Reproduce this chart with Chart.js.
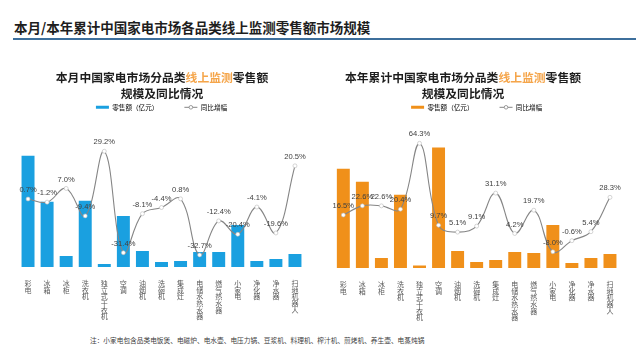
<!DOCTYPE html>
<html>
<head>
<meta charset="utf-8">
<script src="https://cdn.jsdelivr.net/npm/chart.js@4.4.0/dist/chart.umd.min.js"></script>
<style>
body { margin: 0; width: 640px; height: 360px; background: #fff; position: relative; overflow: hidden; font-family: "Noto Sans CJK SC", sans-serif; }
#mainTitle { position: absolute; left: 14px; top: 17px; font-size: 13.5px; font-weight: bold; color: #1e1e1e; line-height: 20px; }
#rule { position: absolute; left: 13px; top: 38px; width: 623px; height: 2px; background: #3d6f9c; }
.sub { position: absolute; top: 69px; width: 320px; text-align: center; font-size: 11.8px; font-weight: bold; color: #1e1e1e; line-height: 15.5px; z-index: 2; }
.sub span { color: #f5a54a; }
.box { position: absolute; top: 78px; width: 320px; height: 252px; }
#note { position: absolute; left: 90px; top: 335px; font-size: 6.7px; color: #404040; line-height: 10px; white-space: nowrap; }
</style>
</head>
<body>
<div id="mainTitle">本月/本年累计中国家电市场各品类线上监测零售额市场规模</div>
<div id="rule"></div>
<div class="sub" style="left:2px">本月中国家电市场分品类<span>线上监测</span>零售额<br>规模及同比情况</div>
<div class="sub" style="left:303px">本年累计中国家电市场分品类<span>线上监测</span>零售额<br>规模及同比情况</div>
<div class="box" style="left:0"><canvas id="monthChart"></canvas></div>
<div class="box" style="left:320px"><canvas id="yearChart"></canvas></div>
<div id="note">注：小家电包含品类电饭煲、电磁炉、电水壶、电压力锅、豆浆机、料理机、榨汁机、煎烤机、养生壶、电蒸炖锅</div>
<script>
var CATEGORIES = ['彩电', '冰箱', '冰柜', '洗衣机', '独立式干衣机', '空调', '油烟机', '洗碗机', '集成灶', '电储水热水器', '燃气热水器', '小家电', '净化器', '净水器', '扫地机器人'];

// 本月
var MONTH_SALES = [111, 65, 11, 66, 3, 51, 16, 5, 6, 15, 15, 42, 6, 8, 13];
var MONTH_GROWTH = [0.7, -1.2, 7.0, -9.4, 29.2, -31.4, -8.1, -4.4, 0.8, -32.7, -12.4, -20.4, -4.1, -19.6, 20.5];

// 本年累计
var YEAR_SALES = [99, 86, 10, 73, 2.5, 120, 17, 6, 8, 16, 15, 43, 5, 10, 14];
var YEAR_GROWTH = [16.5, 22.6, 22.6, 20.4, 64.3, 9.7, 5.1, 9.1, 31.1, 4.2, 19.7, -8.0, -0.6, 5.4, 28.3];

var LINE_GREY = '#858585';

// each category name stacked one character per line
var verticalLabels = CATEGORIES.map(function(c) { return c.split(''); });

var pointLabels = {
	id: 'pointLabels',
	afterDatasetsDraw: function(chart) {
		var ctx = chart.ctx;
		var meta = chart.getDatasetMeta(0);
		var data = chart.data.datasets[0].data;
		ctx.save();
		ctx.font = '7.6px "Liberation Sans", Arial, sans-serif';
		ctx.fillStyle = '#404040';
		ctx.textAlign = 'center';
		ctx.textBaseline = 'middle';
		meta.data.forEach(function(pt, i) {
			ctx.fillText(data[i].toFixed(1) + '%', pt.x, pt.y - 9);
		});
		ctx.restore();
	}
};

// push the plot area down below the legend, and put a small circle on the line swatch
function legendGap(extra) {
	return {
		id: 'legendGap',
		beforeInit: function(chart) {
			var fit = chart.legend.fit;
			chart.legend.fit = function() {
				fit.bind(chart.legend)();
				this.height += extra;
			};
		},
		afterDraw: function(chart) {
			var hb = chart.legend.legendHitBoxes[1];
			if (!hb) return;
			var ctx = chart.ctx;
			ctx.save();
			ctx.beginPath();
			ctx.arc(hb.left + 6.5, hb.top + hb.height / 2, 1.8, 0, Math.PI * 2);
			ctx.fillStyle = '#fff';
			ctx.fill();
			ctx.lineWidth = 0.8;
			ctx.strokeStyle = LINE_GREY;
			ctx.stroke();
			ctx.restore();
		}
	};
}

function makeChart(id, color, sales, growth, salesMax, gMin, gMax, pad, extra) {
	var ctx = document.getElementById(id).getContext('2d');
	return new Chart(ctx, {
		type: 'bar',
		data: {
			labels: verticalLabels,
			datasets: [{
				type: 'line',
				label: '同比增幅',
				data: growth,
				yAxisID: 'y2',
				borderColor: LINE_GREY,
				borderWidth: 1.1,
				tension: 0.4,
				pointRadius: 2,
				pointBackgroundColor: '#fff',
				pointBorderColor: '#bbb',
				pointBorderWidth: 0.6,
				clip: false
			}, {
				type: 'bar',
				label: '零售额（亿元）',
				data: sales,
				yAxisID: 'y',
				backgroundColor: color,
				barPercentage: 0.68,
				categoryPercentage: 1
			}]
		},
		options: {
			responsive: false,
			animation: false,
			devicePixelRatio: 1,
			layout: { padding: pad },
			plugins: {
				tooltip: { enabled: false },
				legend: {
					position: 'top',
					labels: {
						usePointStyle: true,
						pointStyleWidth: 13,
						boxHeight: 3,
						padding: 26,
						color: '#595959',
						font: { size: 6.6, family: '"Noto Sans CJK SC", sans-serif' },
						generateLabels: function() {
							return [
								{ text: '零售额（亿元）', fillStyle: color, strokeStyle: color, lineWidth: 0, pointStyle: 'rect', hidden: false, datasetIndex: 1 },
								{ text: '同比增幅', fillStyle: LINE_GREY, strokeStyle: LINE_GREY, lineWidth: 1, pointStyle: 'line', hidden: false, datasetIndex: 0 }
							];
						}
					}
				}
			},
			scales: {
				x: {
					grid: { display: false },
					border: { display: false },
					ticks: {
						autoSkip: false,
						maxRotation: 0,
						padding: 5,
						color: '#595959',
						font: { size: 7, lineHeight: 0.95, family: '"Noto Sans CJK SC", sans-serif' }
					}
				},
				y: { display: false, min: 0, max: salesMax },
				y2: { display: false, min: gMin, max: gMax }
			}
		},
		plugins: [pointLabels, legendGap(extra)]
	});
}

window.onload = function() {
	['monthChart', 'yearChart'].forEach(function(id) {
		var c = document.getElementById(id);
		c.width = 320;
		c.height = 252;
	});
	window.monthChart = makeChart('monthChart', '#1aa0e0', MONTH_SALES, MONTH_GROWTH, 120, -40, 32,
		{ left: 18.5, right: 15.5, top: 0, bottom: 5 }, 26);
	window.yearChart = makeChart('yearChart', '#f0901a', YEAR_SALES, YEAR_GROWTH, 125, -18.9, 64.8,
		{ left: 13.8, right: 20.5, top: 0, bottom: 4 }, 22);
};
</script>
</body>
</html>
